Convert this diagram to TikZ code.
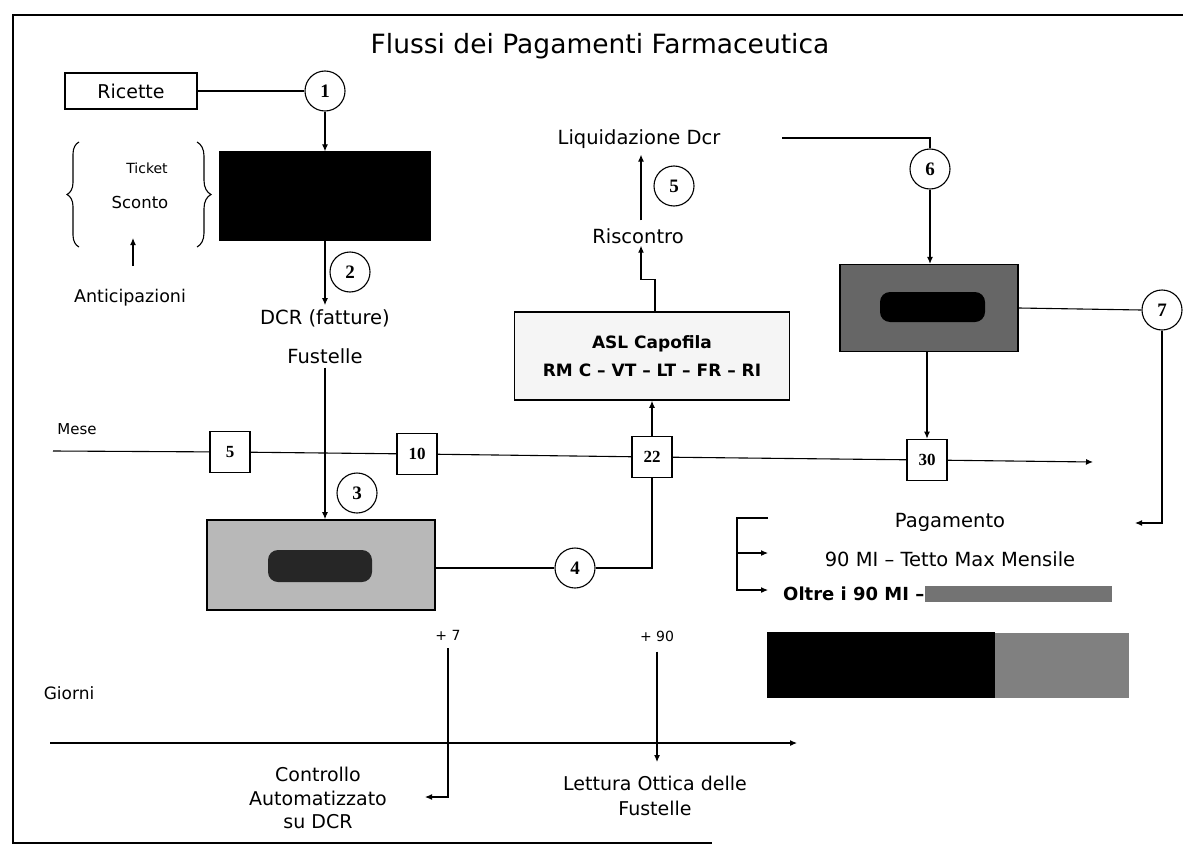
\documentclass[tikz,border=0pt]{standalone}
\usepackage{fontspec}
\setmainfont{DejaVu Sans}
\newfontfamily\numfont{Liberation Serif}
\usetikzlibrary{arrows.meta,decorations.pathreplacing}

\tikzset{
  conn/.style={line width=1.1pt},
  arr/.style={conn,-{Latex[length=7pt,width=6pt]}},
  stepnum/.style={draw,circle,line width=1.1pt,minimum size=40pt,inner sep=0pt,
    font=\numfont\bfseries\fontsize{19}{19}\selectfont},
  daybox/.style={draw,line width=1.6pt,minimum width=40pt,minimum height=41pt,inner sep=0pt,
    font=\numfont\bfseries\fontsize{17}{17}\selectfont},
  lbl/.style={inner sep=0pt,align=center,font=\fontsize{19.5}{24}\selectfont},
  small/.style={inner sep=0pt,font=\fontsize{15}{18}\selectfont},
  hidden/.style={draw=black,fill=black,line width=1.2pt,inner sep=0pt},
}

\begin{document}
\begin{tikzpicture}[x=1pt,y=-1pt]
    \useasboundingbox (0,0) rectangle (1183,851);
    % frame and title
    \draw[conn] (1183,15) -- (13,15) -- (13,843) -- (712,843);
    \node[anchor=base,inner sep=0pt,font=\fontsize{26.5}{30}\selectfont] (title) at (600,53) {Flussi dei Pagamenti Farmaceutica};
    % Ricette and first step
    \node[draw,line width=1.4pt,minimum width=132pt,minimum height=36pt,inner sep=0pt,font=\fontsize{19}{22}\selectfont] (ricette) at (131,91) {Ricette};
    \node[stepnum] (c1) at (325,91) {1};
    \node[hidden,minimum width=210pt,minimum height=88pt] (dcrbox) at (325,196) {};
    \draw[conn] (ricette.east) -- (c1.west);
    \draw[arr] (c1.south) -- (dcrbox.north);
    % Ticket / Sconto bracket
    \node[inner sep=0pt,font=\fontsize{14}{16}\selectfont] (ticket) at (147,168) {Ticket};
    \node[inner sep=0pt,font=\fontsize{16.5}{18}\selectfont] (sconto) at (140,202) {Sconto};
    \draw[conn,decorate,decoration={brace,amplitude=12pt}] (79,247) -- (79,142);
    \draw[conn,decorate,decoration={brace,amplitude=14pt}] (197,142) -- (197,247);
    \node[small,font=\fontsize{17.5}{20}\selectfont] (antic) at (130,298) {Anticipazioni};
    \coordinate (antictail) at (133,266);
    \coordinate (antichead) at (133,238);
    \draw[arr] (antictail) -- (antichead);
    % DCR and Fustelle
    \node[stepnum] (c2) at (350,272) {2};
    \node[lbl] (dcr) at (325,318) {DCR (fatture)};
    \node[lbl] (fust) at (325,356) {Fustelle};
    \draw[arr,shorten >=4pt] (dcrbox.south) -- (dcr.north);
    % Mese time line
    \node[small] (mese) at (77,429) {Mese};
    \coordinate (mesestart) at (53,451);
    \node[daybox] (d5) at (230,452) {5};
    \node[daybox] (d10) at (417,454) {10};
    \node[daybox] (d22) at (652,457) {22};
    \node[daybox] (d30) at (927,460) {30};
    \coordinate (meseend) at (1093,462);
    \draw[conn] (mesestart) -- (d5) -- (d10) -- (d22) -- (d30);
    \draw[arr] (d30) -- (meseend);
    % control box
    \node[hidden,fill=black!28,line width=1.6pt,minimum width=228pt,minimum height=90pt] (verbox) at (321,565) {};
    \fill[black!85,rounded corners=10pt] (268,550) rectangle (372,582);
    \node[stepnum] (c3) at (357,493) {3};
    \draw[arr,shorten <=4pt] (fust.south) -- (fust.south |- verbox.north);
    \node[stepnum] (c4) at (575,568) {4};
    \draw[conn] (verbox.east |- c4.west) -- (c4.west);
    \draw[conn] (c4.east) -| (d22.south);
    % ASL and Riscontro
    \node[draw,line width=1.6pt,fill=black!4,minimum width=275pt,minimum height=88pt,align=center,
      font=\bfseries\fontsize{17}{28}\selectfont] (asl) at (652,356) {ASL Capofila\\RM C -- VT -- LT -- FR -- RI};
    \draw[arr] (d22.north) -- (d22.north |- asl.south);
    \node[lbl] (risc) at (638,236) {Riscontro};
    \node[lbl] (liq) at (639,139) {Liquidazione Dcr};
    \node[stepnum] (c5) at (674,186) {5};
    \draw[arr,shorten >=2pt] ([xshift=3pt]asl.north) -- ++(0,-32) -| ([xshift=3pt]risc.south);
    \draw[arr,shorten <=8pt,shorten >=6pt] ([xshift=3pt]risc.north) -- ([xshift=2pt]liq.south);
    % payment branch
    \node[stepnum] (c6) at (930,169) {6};
    \node[hidden,fill=black!60,minimum width=178pt,minimum height=87pt] (payhid) at (929,308) {};
    \fill[black,rounded corners=10pt] (880,292) rectangle (985,322);
    \coordinate (liqline) at (782,138);
    \coordinate (liqend) at (930,138);
    \draw[conn] (liqline) -- (liqend) -- (c6.north);
    \draw[arr] (c6.south) -- (c6.south |- payhid.north);
    \draw[arr] (d30.north |- payhid.south) -- (d30.north);
    \node[stepnum] (c7) at (1162,310) {7};
    \draw[conn] (payhid.east) -- (c7.west);
    % Pagamento
    \node[lbl] (pag) at (950,522) {Pagamento};
    \node[lbl] (tetto) at (950,559) {90 MI -- Tetto Max Mensile};
    \node[anchor=west,inner sep=0pt,font=\bfseries\fontsize{18}{20}\selectfont] (oltre) at (783,594) {Oltre i 90 MI --};
    \node[anchor=west,fill=black!55,minimum width=187pt,minimum height=16pt,inner sep=0pt] (oltrehid) at (oltre.east) {};
    \coordinate (pagin) at (1135,523);
    \draw[arr] (c7.south) |- (pagin);
    \coordinate (bra) at (768,518);
    \coordinate (brb) at (768,553);
    \coordinate (brc) at (768,590);
    \coordinate (brtl) at (737,518);
    \coordinate (brbl) at (737,590);
    \draw[arr] (bra) -- (brtl) -- (brbl) -- (brc);
    \draw[arr] (brtl |- brb) -- (brb);
    % hidden block bottom right
    \node[hidden,minimum width=226pt,minimum height=65pt] (blk) at (881,665) {};
    \node[anchor=west,fill=black!50,minimum width=134pt,minimum height=65pt,inner sep=0pt] (blkgray) at (blk.east) {};
    % Giorni time line
    \node[small,font=\fontsize{17}{18}\selectfont] (giorni) at (69,693) {Giorni};
    \coordinate (gstart) at (50,743);
    \coordinate (gend) at (797,743);
    \draw[arr] (gstart) -- (gend);
    \node[small,font=\fontsize{14}{16}\selectfont] (p7) at (448,635) {+ 7};
    \node[small,font=\fontsize{14}{16}\selectfont] (p90) at (657,636) {+ 90};
    \node[lbl,font=\fontsize{19}{23.5}\selectfont] (ctrl) at (318,798) {Controllo\\Automatizzato\\su DCR};
    \node[lbl,font=\fontsize{19}{25}\selectfont] (lett) at (655,796) {Lettura Ottica delle\\Fustelle};
    \coordinate (ctrlin) at (425,797);
    \coordinate (lettin) at (657,762);
    \draw[arr,shorten <=8pt] (p7.south) |- (ctrlin);
    \draw[arr,shorten <=10pt] (p90.south) -- (lettin);
\end{tikzpicture}
\end{document}
